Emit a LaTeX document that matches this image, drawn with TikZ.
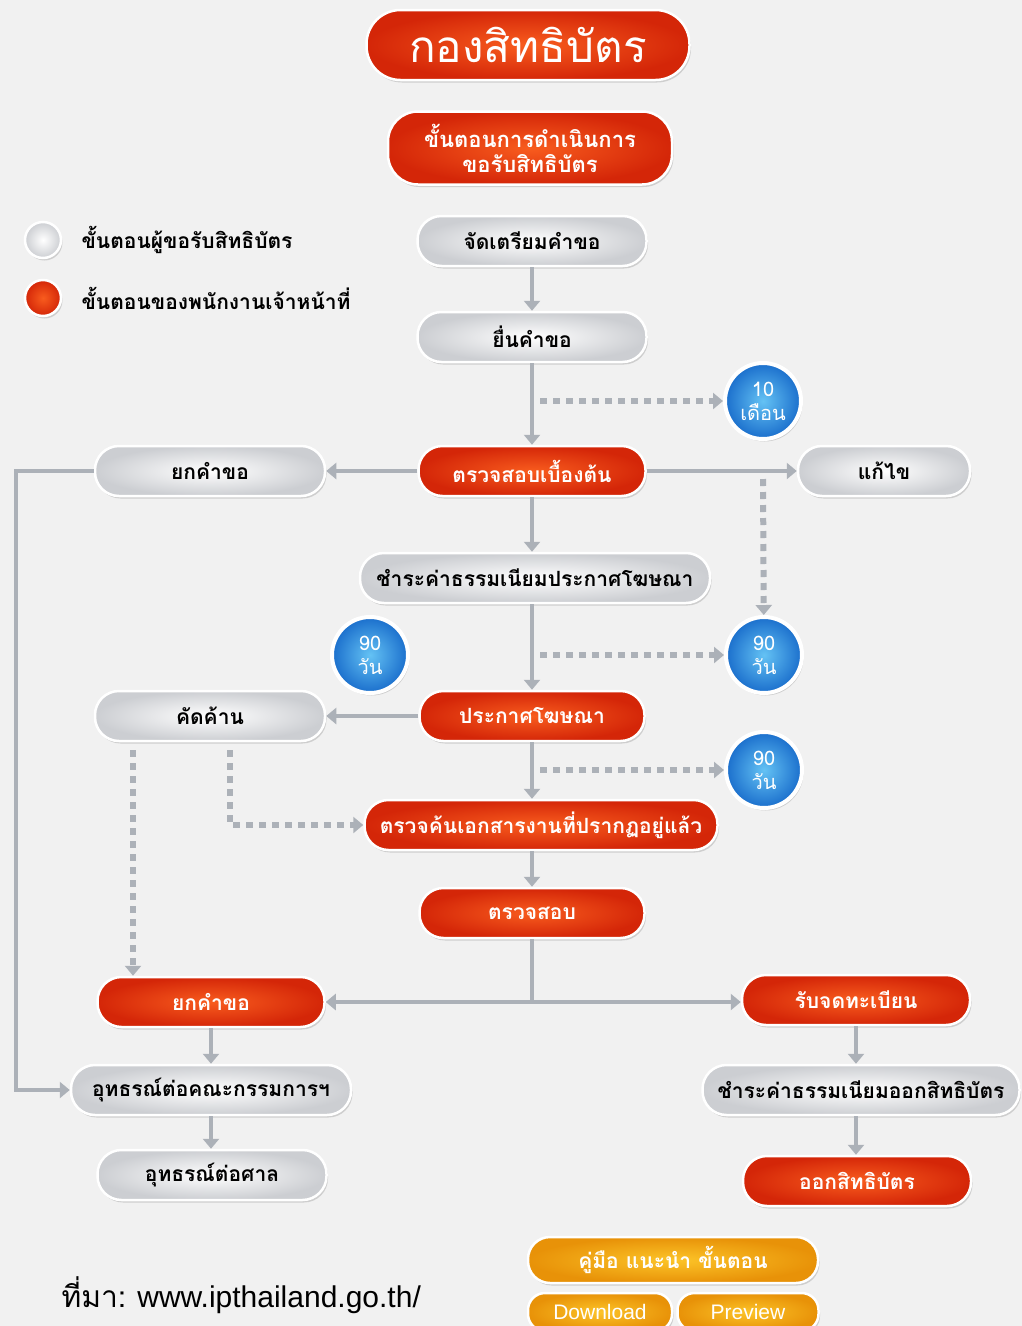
\documentclass[tikz,border=0pt]{standalone}
\usepackage{fontspec}
\setmainfont{Liberation Sans}
\newfontfamily\thaifont[Script=Thai]{Loma}
\usetikzlibrary{arrows.meta,shadows}

\definecolor{bggray}{RGB}{241,241,241}
\definecolor{linegray}{RGB}{172,177,184}
\definecolor{redin}{RGB}{248,92,30}
\definecolor{redout}{RGB}{212,38,8}
\definecolor{grayout}{RGB}{204,206,210}
\definecolor{bluein}{RGB}{100,194,244}
\definecolor{blueout}{RGB}{26,110,204}
\definecolor{orin}{RGB}{252,196,40}
\definecolor{orout}{RGB}{232,146,8}

\tikzset{
  box/.style={rounded corners=24pt, minimum height=50pt, draw=white, line width=2.5pt,
    font=\thaifont\bfseries\fontsize{21}{23}\selectfont,
    drop shadow={shadow xshift=1.5pt, shadow yshift=-2.5pt, opacity=0.3}},
  redbox/.style={box, inner color=redin, outer color=redout, text=white},
  graybox/.style={box, inner color=white, outer color=grayout, text=black},
  orbox/.style={box, inner color=orin, outer color=orout, text=white},
  daycirc/.style={circle, minimum size=76pt, inner sep=0pt, draw=white, line width=4pt,
    inner color=bluein, outer color=blueout, text=white, align=center,
    font=\thaifont\fontsize{20}{24}\selectfont,
    drop shadow={shadow xshift=1.5pt, shadow yshift=-2.5pt, opacity=0.3}},
  flow/.style={draw=linegray, line width=4pt, -{Triangle[width=16pt,length=10pt]}},
  wait/.style={draw=linegray, line width=6pt, dash pattern=on 7pt off 6pt,
    -{Triangle[width=16pt,length=10pt]}},
  legendtxt/.style={anchor=west, font=\thaifont\bfseries\fontsize{21}{23}\selectfont}
}

\begin{document}
\begin{tikzpicture}[x=1pt,y=-1pt]
\fill[bggray] (0,0) rectangle (1022,1326);
\useasboundingbox (0,0) rectangle (1022,1326);

\node[redbox, minimum width=323pt, minimum height=70pt, rounded corners=34pt,
  font=\thaifont\fontsize{44}{46}\selectfont] (title) at (528,45) {กองสิทธิบัตร};
\node[redbox, minimum width=284pt, minimum height=73pt, rounded corners=30pt, align=center,
  font=\thaifont\bfseries\fontsize{22}{25}\selectfont] (steps) at (530,148) {ขั้นตอนการดำเนินการ\\ขอรับสิทธิบัตร};

\node[graybox, circle, minimum size=36pt, inner sep=0pt] (lgray) at (43,240) {};
\node[redbox, circle, minimum size=36pt, inner sep=0pt] (lred) at (43,298) {};
\node[legendtxt] (lgraytxt) at (78,240) {ขั้นตอนผู้ขอรับสิทธิบัตร};
\node[legendtxt] (lredtxt) at (78,298) {ขั้นตอนของพนักงานเจ้าหน้าที่};

\node[graybox, minimum width=229pt] (prep) at (532,241) {จัดเตรียมคำขอ};
\node[graybox, minimum width=229pt] (file) at (532,337) {ยื่นคำขอ};
\node[redbox, minimum width=227pt] (check) at (532,471) {ตรวจสอบเบื้องต้น};
\node[graybox, minimum width=230pt] (drop1) at (210,471) {ยกคำขอ};
\node[graybox, minimum width=172pt] (fix) at (884,471) {แก้ไข};
\node[graybox, minimum width=350pt] (fee1) at (535,578) {ชำระค่าธรรมเนียมประกาศโฆษณา};
\node[graybox, minimum width=230pt] (oppose) at (210,716) {คัดค้าน};
\node[redbox, minimum width=225pt] (publish) at (532,716) {ประกาศโฆษณา};
\node[redbox, minimum width=353pt] (search) at (541,825) {ตรวจค้นเอกสารงานที่ปรากฏอยู่แล้ว};
\node[redbox, minimum width=225pt] (exam) at (532,913) {ตรวจสอบ};
\node[redbox, minimum width=227pt] (drop2) at (211,1002) {ยกคำขอ};
\node[redbox, minimum width=228pt] (grant) at (856,1000) {รับจดทะเบียน};
\node[graybox, minimum width=280pt] (appeal) at (211,1090) {อุทธรณ์ต่อคณะกรรมการฯ};
\node[graybox, minimum width=317pt] (fee2) at (861,1090) {ชำระค่าธรรมเนียมออกสิทธิบัตร};
\node[graybox, minimum width=229pt] (court) at (212,1175) {อุทธรณ์ต่อศาล};
\node[redbox, minimum width=228pt] (issue) at (857,1181) {ออกสิทธิบัตร};

\node[daycirc] (t10) at (763,401) {10\\เดือน};
\node[daycirc] (d90a) at (370,655) {90\\วัน};
\node[daycirc] (d90b) at (764,655) {90\\วัน};
\node[daycirc] (d90c) at (764,770) {90\\วัน};

\draw[flow] (prep) -- (file);
\draw[flow] (file) -- (check);
\draw[flow] (check) -- (drop1);
\draw[flow] (check) -- (fix);
\draw[flow] (check) -- (fee1.north -| check);
\draw[flow] (fee1.south -| publish) -- (publish);
\draw[flow] (publish) -- (oppose);
\draw[flow] (publish) -- (publish.south |- search.north);
\draw[flow] (search.south -| exam) -- (exam);
\coordinate (split) at (exam.south |- drop2);
\draw[draw=linegray, line width=4pt] (exam) -- (split);
\draw[flow] (split) -- (drop2);
\draw[flow] (split) -- (split -| grant.west);
\draw[flow] (drop2) -- (drop2 |- appeal.north);
\draw[flow] (appeal.south -| drop2) -- (court.north -| drop2);
\draw[flow] (grant) -- (grant |- fee2.north);
\draw[flow] (fee2.south -| grant) -- (grant |- issue.north);
\draw[flow] (drop1.west) -- ++(-78,0) |- (appeal.west);

\coordinate (w10) at (540,401);
\coordinate (wfix) at (763,479);
\coordinate (w90b) at (540,655);
\coordinate (w90c) at (540,770);
\coordinate (opp1) at (133,750);
\coordinate (opp2) at (230,750);
\draw[wait] (w10) -- (t10);
\draw[wait] (wfix) -- (d90b);
\draw[wait] (w90b) -- (d90b);
\draw[wait] (w90c) -- (d90c);
\draw[wait] (opp2) |- (search.west);
\draw[wait] (opp1) -- (opp1 |- drop2.north);

\node[orbox, minimum width=290pt, minimum height=46pt, rounded corners=22pt] (guide) at (673,1260) {คู่มือ แนะนำ ขั้นตอน};
\node[orbox, minimum width=144pt, minimum height=38pt, rounded corners=17pt,
  font=\fontsize{21}{23}\selectfont] (dl) at (600,1312) {Download};
\node[orbox, minimum width=141pt, minimum height=38pt, rounded corners=17pt,
  font=\fontsize{21}{23}\selectfont] (pv) at (748,1312) {Preview};

\node[anchor=west, font=\fontsize{30}{32}\selectfont] (src) at (58,1295) {{\thaifont ที่มา:} www.ipthailand.go.th/};
\end{tikzpicture}
\end{document}
